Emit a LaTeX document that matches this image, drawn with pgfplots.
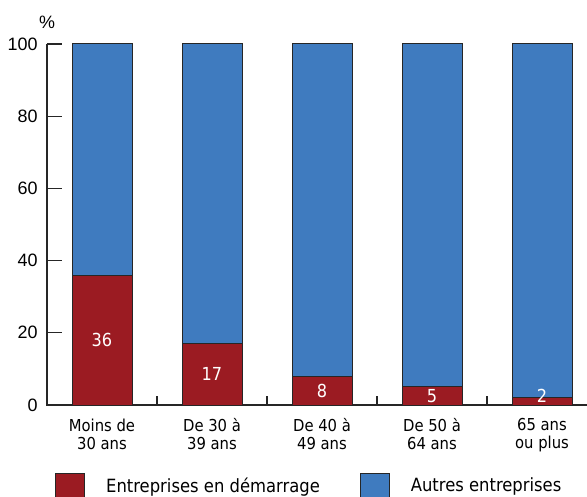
\documentclass[border=0pt]{standalone}
\usepackage{pgfplots}
\pgfplotsset{compat=1.18}
\usepackage{fontspec}
\setmainfont{DejaVu Sans Condensed}
\newfontfamily\tickfont{Liberation Sans}
\definecolor{redbar}{HTML}{9B1B22}
\definecolor{bluebar}{HTML}{3F7BBF}
\definecolor{edge}{HTML}{262626}
\begin{document}
\begin{tikzpicture}
\begin{axis}[name=ax, scale only axis, width=540bp, height=361bp,
  ybar stacked, bar width=60bp, clip=false,
  xmin=-0.5, xmax=4.409, ymin=0, ymax=100,
  axis line style={draw=none},
  xtick pos=lower, ytick pos=left,
  xtick={0,1,2,3,4},
  xticklabels={{Moins de\\30 ans},{De 30 à\\39 ans},{De 40 à\\49 ans},{De 50 à\\64 ans},{65 ans\\ou plus}},
  major x tick style={draw=none},
  minor xtick={0.5,1.5,2.5,3.5},
  xticklabel style={align=center, font=\fontsize{16.5}{18.3}\selectfont, yshift=-10bp},
  ytick={0,20,...,100},
  yticklabel style={font=\tickfont\fontsize{18}{20}\selectfont, xshift=-6bp},
  /pgf/number format/assume math mode=true,
  tick align=inside,
  major tick length=15bp, minor tick length=9bp,
  tick style={draw=edge, line width=1.2bp},
  legend columns=2,
  legend image code/.code={\draw[#1, line width=1bp] (0bp,-17bp) rectangle (29bp,12bp);},
  legend style={at={(0,0)}, anchor=north west, xshift=5bp, yshift=-66bp, draw=none,
    font=\fontsize{18.3}{20}\selectfont,
    /tikz/every even column/.append style={column sep=38bp},
    /tikz/every odd column/.append style={column sep=19bp}},
]
\addplot[fill=redbar, draw=edge, line width=1bp]
  coordinates {(0,36) (1,17) (2,8) (3,5) (4,2)};
\addlegendentry{Entreprises en démarrage}
\addplot[fill=bluebar, draw=edge, line width=1bp]
  coordinates {(0,64) (1,83) (2,92) (3,95) (4,98)};
\addlegendentry{Autres entreprises}
\draw[edge, line width=1.2bp] (rel axis cs:0,1) -- (rel axis cs:0,0) -- (rel axis cs:1,0);
\node[anchor=south, font=\tickfont\fontsize{18}{20}\selectfont] at (rel axis cs:0,1) [yshift=12bp] {\%};
\end{axis}
\begin{axis}[at={(ax.south west)}, anchor=south west, scale only axis, width=540bp, height=361bp,
  hide axis, clip=false,
  xmin=-0.5, xmax=4.409, ymin=0, ymax=100]
\addplot[draw=none, mark=none, nodes near coords, point meta=explicit symbolic,
  nodes near coords style={text=white, anchor=center, inner sep=0pt, font=\fontsize{18}{20}\selectfont}]
  coordinates {(0,18)[36] (1,8.5)[17] (2,4)[8] (3,2.5)[5] (4,2.5)[2]};
\end{axis}
\pgfresetboundingbox
\path (ax.south west) ++(-47bp,-92bp) rectangle ++(587bp,497bp);
\end{tikzpicture}
\end{document}
